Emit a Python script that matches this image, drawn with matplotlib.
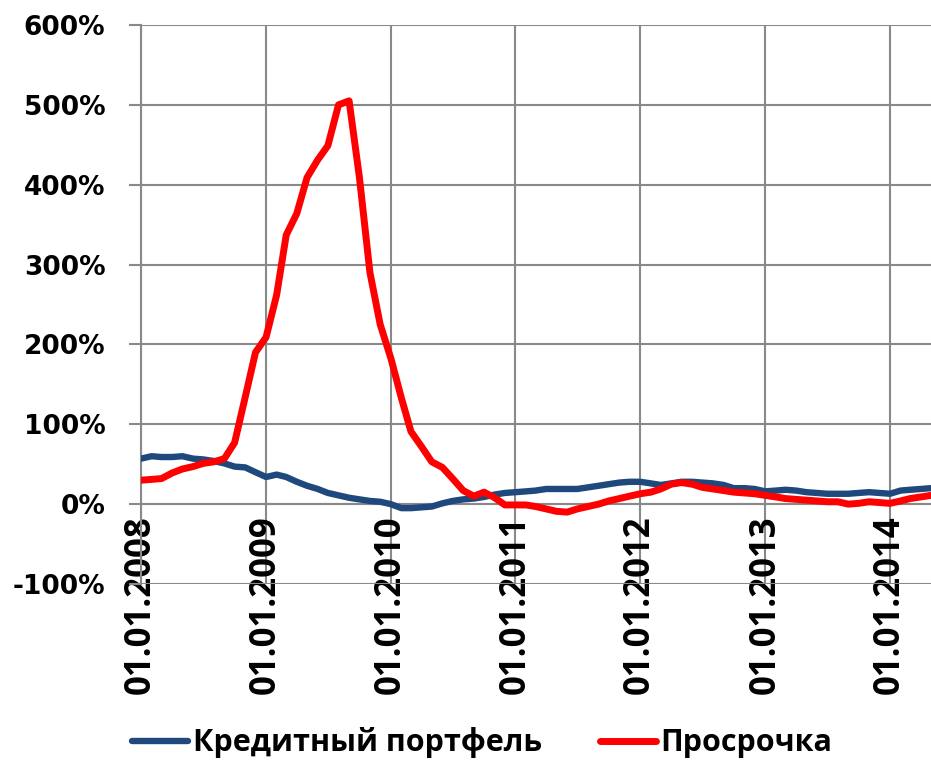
import pandas as pd
import matplotlib
matplotlib.use("Agg")
import matplotlib.pyplot as plt
import matplotlib.dates as mdates
from matplotlib.ticker import FuncFormatter, MultipleLocator

# monthly growth rates, % year over year (Jan 2008 .. May 2014)
months = pd.date_range("2008-01-01", "2014-05-01", freq="MS")

portfolio = [57, 60, 59, 59, 60, 57, 56, 54, 51, 47, 46, 40,
             34, 37, 34, 28, 23, 19, 14, 11, 8, 6, 4, 3,
             0, -5, -5, -4, -3, 1, 4, 6, 7, 9, 12, 14,
             15, 16, 17, 19, 19, 19, 19, 21, 23, 25, 27, 28,
             28, 26, 24, 26, 28, 28, 27, 26, 24, 20, 20, 19,
             16, 17, 18, 17, 15, 14, 13, 13, 13, 14, 15, 14,
             13, 17, 18, 19, 20]

overdue = [30, 31, 32, 39, 44, 47, 51, 53, 57, 77, 134, 190,
           209, 262, 337, 364, 409, 431, 449, 500, 505, 410, 290, 225,
           183, 133, 91, 72, 53, 46, 32, 17, 10, 15, 8, -1,
           -1, -1, -3, -6, -9, -10, -6, -3, 0, 4, 7, 10,
           13, 15, 19, 25, 27, 25, 21, 19, 17, 15, 14, 13,
           11, 9, 7, 6, 5, 4, 3, 3, 0, 1, 3, 2,
           1, 4, 7, 9, 11]

series_names = ["Кредитный портфель", "Просрочка"]
colors = ["#1F497D", "#FF0000"]
grid_color = "#898989"
label_font = ["Open Sans", "DejaVu Sans"]

fig = plt.figure(figsize=(9.31, 7.62), dpi=100)
ax = fig.add_axes([141 / 931, 1 - 584 / 762, 790 / 931, 559 / 762])

ax.plot(months, portfolio, color=colors[0], lw=4.6, solid_capstyle="round",
        solid_joinstyle="round", label=series_names[0], zorder=3)
ax.plot(months, overdue, color=colors[1], lw=5.0, solid_capstyle="round",
        solid_joinstyle="round", label=series_names[1], zorder=4)

ax.set_xlim(months[0], months[-1])
ax.set_ylim(-100, 600)

ax.yaxis.set_major_locator(MultipleLocator(100))
ax.yaxis.set_major_formatter(FuncFormatter(lambda v, p: f"{v:.0f}%"))
ax.xaxis.set_major_locator(mdates.YearLocator())
ax.xaxis.set_major_formatter(mdates.DateFormatter("%d.%m.%Y"))

ax.grid(True, color=grid_color, lw=1.5, zorder=0)
ax.set_axisbelow(True)
for s in ["top", "right"]:
    ax.spines[s].set_visible(False)
ax.spines["left"].set_color(grid_color)
ax.spines["left"].set_linewidth(1.5)
ax.spines["bottom"].set_position(("data", 0))
ax.spines["bottom"].set_color(grid_color)
ax.spines["bottom"].set_linewidth(1.5)

ax.tick_params(axis="y", length=8.6, width=1.5, color=grid_color, pad=17)
ax.tick_params(axis="x", length=0, pad=8)
for lab in ax.get_yticklabels():
    lab.set_fontsize(19)
    lab.set_fontweight("bold")
    lab.set_family("DejaVu Sans")
for lab in ax.get_xticklabels():
    lab.set_fontsize(25)
    lab.set_fontweight("bold")
    lab.set_family(label_font)
    lab.set_rotation(90)

fig.legend(loc="center", bbox_to_anchor=(0.518, 0.025), ncol=2, frameon=False,
           prop={"family": label_font, "weight": "bold", "size": 22},
           handlelength=1.83, handletextpad=0.16, columnspacing=1.9,
           borderaxespad=0, borderpad=0)

fig.savefig("out.png", dpi=100)
